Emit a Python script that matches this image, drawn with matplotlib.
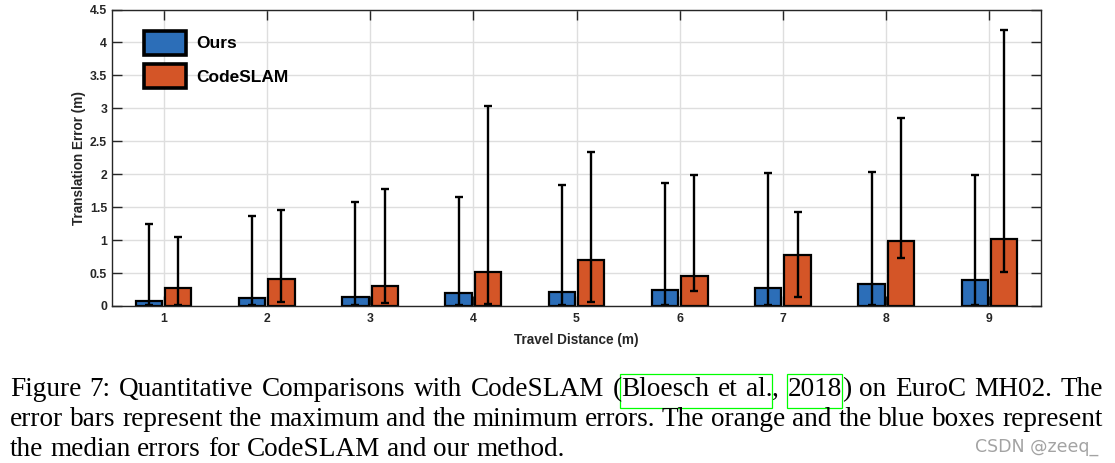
import matplotlib
matplotlib.use("Agg")
import matplotlib.pyplot as plt
from matplotlib.patches import Patch, Rectangle
import numpy as np

# travel distance groups (m)
distance = [1, 2, 3, 4, 5, 6, 7, 8, 9]

# Ours: median / min / max translation error (m)
ours_median = [0.07, 0.12, 0.14, 0.19, 0.22, 0.24, 0.28, 0.34, 0.40]
ours_min = [0.01, 0.01, 0.01, 0.01, 0.01, 0.01, 0.01, 0.01, 0.02]
ours_max = [1.25, 1.37, 1.58, 1.66, 1.84, 1.86, 2.02, 2.03, 1.99]

# CodeSLAM: median / min / max translation error (m)
code_median = [0.28, 0.41, 0.31, 0.52, 0.70, 0.45, 0.78, 0.99, 1.01]
code_min = [0.02, 0.06, 0.05, 0.03, 0.06, 0.23, 0.14, 0.73, 0.52]
code_max = [1.04, 1.45, 1.78, 3.04, 2.33, 1.99, 1.43, 2.86, 4.19]

y_ticks = [0, 0.5, 1, 1.5, 2, 2.5, 3, 3.5, 4, 4.5]
y_tick_labels = ["0", "0.5", "1", "1.5", "2", "2.5", "3", "3.5", "4", "4.5"]

# caption lines: each word is a list of (text, box id) segments
caption = [
    ("Figure 7: Quantitative Comparisons with CodeSLAM", [[("(", None), ("Bloesch", 1)], [("et", 1)],
                                                         [("al.", 1), (",", None)], [("2018", 2), (")", None)]],
     "on EuroC MH02. The", True),
    ("error bars represent the maximum and the minimum errors. The orange and the blue boxes represent", [], "", True),
    ("the median errors for CodeSLAM and our method.", [], "", False),
]

BLUE = "#2c6eb8"
ORANGE = "#d45527"
AX_COLOR = "#262626"
W, H = 1115, 463

fig = plt.figure(figsize=(W / 100, H / 100), dpi=100)
ax = fig.add_axes([112 / W, 1 - 306 / H, (1041 - 112) / W, (306 - 9.5) / H])

x = np.array(distance, dtype=float)
off, bw = 0.142, 0.255
om, cm = np.array(ours_median), np.array(code_median)

ax.bar(x - off, om, bw, color=BLUE, edgecolor="black", linewidth=1.6, zorder=3)
ax.bar(x + off, cm, bw, color=ORANGE, edgecolor="black", linewidth=1.6, zorder=3)
ax.errorbar(x - off, om, yerr=[om - np.array(ours_min), np.array(ours_max) - om], fmt="none",
            ecolor="black", elinewidth=1.7, capsize=3.2, capthick=1.7, zorder=4)
ax.errorbar(x + off, cm, yerr=[cm - np.array(code_min), np.array(code_max) - cm], fmt="none",
            ecolor="black", elinewidth=1.7, capsize=3.2, capthick=1.7, zorder=4)

ax.set_xlim(0.5, 9.5)
ax.set_ylim(0, 4.5)
ax.set_xticks(distance)
ax.set_xticklabels([str(d) for d in distance])
ax.set_yticks(y_ticks)
ax.set_yticklabels(y_tick_labels)
ax.grid(True, color="#dedede", linewidth=1.0, zorder=0)
ax.set_axisbelow(True)
for s in ax.spines.values():
    s.set_color(AX_COLOR)
    s.set_linewidth(1.0)
    s.set_zorder(5)
ax.tick_params(axis="both", direction="in", length=7, width=1.0, color=AX_COLOR,
               labelcolor=AX_COLOR, labelsize=8.8, top=True, right=True)
ax.tick_params(axis="y", pad=3.5)
ax.tick_params(axis="x", pad=5)
for lab in ax.get_xticklabels() + ax.get_yticklabels():
    lab.set_fontfamily("Liberation Sans")
    lab.set_fontweight("bold")

ax.set_xlabel("Travel Distance (m)", fontsize=9.8, fontweight="bold", family="Liberation Sans",
              color=AX_COLOR, labelpad=6)
ax.set_ylabel("Translation Error (m)", fontsize=9.8, fontweight="bold", family="Liberation Sans",
              color=AX_COLOR, labelpad=3)

handles = [Patch(facecolor=BLUE, edgecolor="black", linewidth=2.6, label="Ours"),
           Patch(facecolor=ORANGE, edgecolor="black", linewidth=2.6, label="CodeSLAM")]
ax.legend(handles=handles, loc="upper left", bbox_to_anchor=(0.025, 0.958), frameon=False,
          borderpad=0, handlelength=2.4, handleheight=1.75, handletextpad=0.6, labelspacing=0.55,
          prop={"family": "Liberation Sans", "weight": "bold", "size": 12.5})

# caption, laid out word by word and justified like the LaTeX original
renderer = fig.canvas.get_renderer()
cap_font = dict(family="Liberation Serif", size=19.6, color="black")
left, right = 10, 1103
baselines = [396, 426, 455.7]
boxes = {}


def px(xp, yp):
    return xp / W, 1 - yp / H


def text_width(s):
    t = fig.text(0, 0, s, **cap_font)
    w = t.get_window_extent(renderer).width
    t.remove()
    return w


space = text_width("a a") - text_width("aa")

for (before, mid, after, justify), base in zip(caption, baselines):
    words = [[(w, None)] for w in before.split()] + mid + [[(w, None)] for w in after.split()]
    widths = [[text_width(seg) for seg, _ in word] for word in words]
    total = sum(sum(ws) for ws in widths)
    gap = (right - left - total) / (len(words) - 1) if justify else space
    xc = left
    for word, ws in zip(words, widths):
        for (seg, bid), w in zip(word, ws):
            fig.text(*px(xc, base), seg, va="baseline", ha="left", **cap_font)
            if bid is not None:
                b = boxes.setdefault(bid, [xc, xc + w])
                b[0] = min(b[0], xc)
                b[1] = max(b[1], xc + w)
            xc += w
        xc += gap

for bid, (x0, x1) in boxes.items():
    fig.patches.append(Rectangle(px(x0 - 1, baselines[0] + 12), (x1 - x0 + 1) / W, 34 / H,
                                 transform=fig.transFigure, fill=False, edgecolor="#00ff00", linewidth=0.9))

fig.text(*px(1098, 452), "CSDN @zeeq_", ha="right", va="baseline", family="DejaVu Sans",
         fontsize=12.5, color="#a3a3a3")

fig.savefig("out.png", dpi=100)
